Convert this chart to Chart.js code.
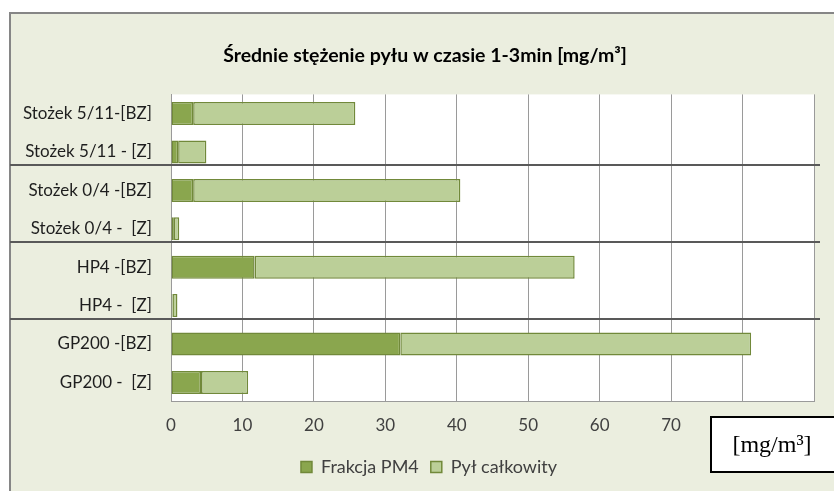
<!DOCTYPE html>
<html>
<head>
<meta charset="utf-8">
<script src="https://cdn.jsdelivr.net/npm/chart.js@4/dist/chart.umd.min.js"></script>
<style>
  body { margin: 0; background: #fff; }
  #wrap { position: relative; width: 834px; height: 491px; }
</style>
</head>
<body>
<div id="wrap"><canvas id="dustChart"></canvas></div>
<script>
var categories = ['Stożek 5/11-[BZ]', 'Stożek 5/11 - [Z]', 'Stożek 0/4 -[BZ]', 'Stożek 0/4 -  [Z]',
  'HP4 -[BZ]', 'HP4 -  [Z]', 'GP200 -[BZ]', 'GP200 -  [Z]'];
var pm4Values = [3.1, 1.0, 3.1, 0.4, 11.7, 0.2, 32.1, 4.2];
var totalDustValues = [22.7, 3.95, 37.4, 0.75, 44.8, 0.7, 49.1, 6.6];
var seriesNames = ['Frakcja PM4', 'Pył całkowity'];
var xTicks = [0, 10, 20, 30, 40, 50, 60, 70, 80, 90];
var titleText = 'Średnie stężenie pyłu w czasie 1-3min [mg/m³]';
var unitText = '[mg/m³]';

var mainFont = 'Lato, "Noto Sans", sans-serif';

// frame, background and white plot area
var backgroundPlugin = {
  id: 'background',
  afterLayout: function(chart) {
    // title and legend sit a little right of centre in the original
    chart.titleBlock.left += 18;
    chart.titleBlock.right += 18;
    chart.legend.left += 22;
    chart.legend.right += 22;
    chart.legend.top -= 4;
    chart.legend.bottom -= 4;
  },
  beforeDraw: function(chart) {
    var ctx = chart.ctx;
    var area = chart.chartArea;
    ctx.save();
    ctx.fillStyle = '#ffffff';
    ctx.fillRect(0, 0, chart.width, chart.height);
    ctx.fillStyle = '#EBEEDF';
    ctx.fillRect(9, 12, chart.width, chart.height);
    ctx.strokeStyle = '#868686';
    ctx.lineWidth = 2;
    ctx.beginPath();
    ctx.moveTo(10, chart.height);
    ctx.lineTo(10, 13);
    ctx.lineTo(chart.width, 13);
    ctx.stroke();
    ctx.fillStyle = '#ffffff';
    ctx.fillRect(area.left, area.top, area.right - area.left, area.bottom - area.top);
    ctx.restore();
  }
};

// group separators (hand-placed lines in the original, a bit above the boundary) and unit box
var extrasPlugin = {
  id: 'extras',
  afterDraw: function(chart) {
    var ctx = chart.ctx;
    var yScale = chart.scales.y;
    ctx.save();
    ctx.strokeStyle = '#595959';
    ctx.lineWidth = 2;
    for (var i = 1; i < categories.length - 1; i += 2) {
      var y = Math.round(yScale.getPixelForValue(i + 0.35));
      ctx.beginPath();
      ctx.moveTo(10, y);
      ctx.lineTo(820, y);
      ctx.stroke();
    }
    ctx.fillStyle = '#ffffff';
    ctx.fillRect(711, 417, 140, 55);
    ctx.strokeStyle = '#000000';
    ctx.lineWidth = 2;
    ctx.strokeRect(711, 417, 140, 55);
    ctx.fillStyle = '#000000';
    ctx.font = '24px "Liberation Serif", "DejaVu Serif", serif';
    ctx.textAlign = 'center';
    ctx.textBaseline = 'middle';
    ctx.fillText(unitText, 772, 446);
    ctx.restore();
  }
};

var ctx = document.getElementById('dustChart').getContext('2d');
var dustChart = new Chart(ctx, {
  type: 'bar',
  data: {
    labels: categories,
    datasets: [
      {
        label: seriesNames[0],
        data: pm4Values,
        backgroundColor: '#8AA64E',
        borderColor: '#71893A',
        borderWidth: 1.5,
        borderSkipped: false,
        categoryPercentage: 1,
        barPercentage: 0.6
      },
      {
        label: seriesNames[1],
        data: totalDustValues,
        backgroundColor: '#BBCF98',
        borderColor: '#71893A',
        borderWidth: 1.5,
        borderSkipped: false,
        categoryPercentage: 1,
        barPercentage: 0.6
      }
    ]
  },
  options: {
    indexAxis: 'y',
    responsive: true,
    maintainAspectRatio: false,
    animation: false,
    layout: { padding: { left: 0, right: 20, top: 0, bottom: 1 } },
    plugins: {
      title: {
        display: true,
        text: titleText,
        color: '#000000',
        font: { family: mainFont, size: 19.5, weight: 'bold' },
        padding: { top: 44, bottom: 27 }
      },
      legend: {
        position: 'bottom',
        labels: {
          color: '#404040',
          font: { family: mainFont, size: 18 },
          boxWidth: 11,
          boxHeight: 11,
          padding: 12
        }
      },
      tooltip: { enabled: false }
    },
    scales: {
      x: {
        stacked: true,
        min: 0,
        max: 90,
        afterBuildTicks: function(scale) {
          scale.ticks = xTicks.map(function(v) { return { value: v }; });
        },
        afterFit: function(scale) { scale.paddingRight = 0; },
        ticks: {
          color: '#404040',
          font: { family: mainFont, size: 17 },
          padding: 14
        },
        grid: { color: '#9a9a9a', lineWidth: 1, drawTicks: false },
        border: { display: true, color: '#9a9a9a', width: 1 }
      },
      y: {
        stacked: true,
        afterFit: function(scale) { scale.width = 171; },
        ticks: {
          color: '#1e1e1e',
          font: { family: mainFont, size: 17 },
          padding: 19
        },
        grid: { display: false, drawTicks: false },
        border: { display: true, color: '#9a9a9a', width: 1 }
      }
    }
  },
  plugins: [backgroundPlugin, extrasPlugin]
});
</script>
</body>
</html>
